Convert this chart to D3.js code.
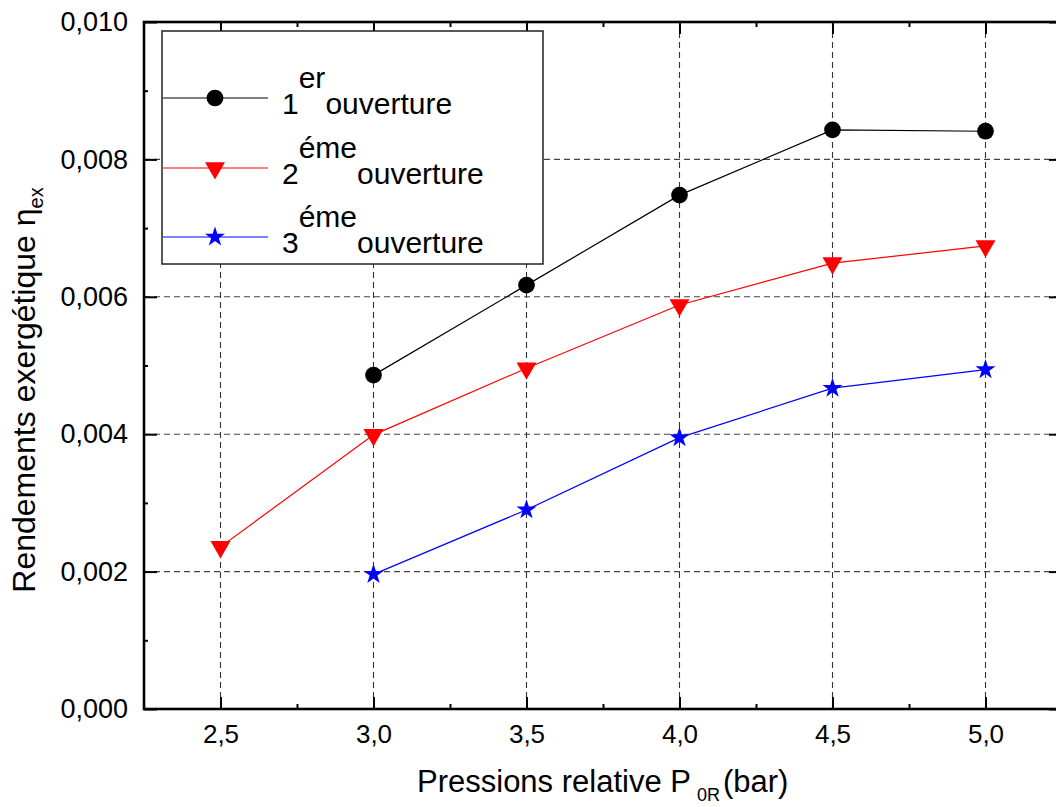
<!DOCTYPE html>
<html>
<head>
<meta charset="utf-8">
<script src="https://cdn.jsdelivr.net/npm/d3@7"></script>
<style>
  html, body { margin: 0; padding: 0; background: #fff; }
  svg { display: block; font-family: "Liberation Sans", Arial, sans-serif; }
</style>
</head>
<body>
<svg id="chart" width="1056" height="807"></svg>
<script>
// ---- data ----
const xTickValues = [2.5, 3.0, 3.5, 4.0, 4.5, 5.0];
const yTickValues = [0, 0.002, 0.004, 0.006, 0.008, 0.010];
const seriesNames = ["1", "2", "3"];
const seriesSup = ["er", "éme", "éme"];
const pressure1 = [3.0, 3.5, 4.0, 4.5, 5.0];
const rendement1 = [0.00486, 0.00617, 0.00748, 0.00843, 0.00841];
const pressure2 = [2.5, 3.0, 3.5, 4.0, 4.5, 5.0];
const rendement2 = [0.00236, 0.00399, 0.00496, 0.00588, 0.00649, 0.00674];
const pressure3 = [3.0, 3.5, 4.0, 4.5, 5.0];
const rendement3 = [0.00196, 0.00290, 0.00395, 0.00467, 0.00494];

const colors = ["#000000", "#ff0000", "#0000ff"];
const symbols = [d3.symbolCircle, d3.symbolTriangle, d3.symbolStar];

const series = [
  { xs: pressure1, ys: rendement1 },
  { xs: pressure2, ys: rendement2 },
  { xs: pressure3, ys: rendement3 }
];

// ---- layout ----
const L = 144, R = 1062, T = 22, B = 709;
const svg = d3.select("#chart");
const x = d3.scaleLinear().domain([2.25, 5.25]).range([L, R]);
const y = d3.scaleLinear().domain([0, 0.010]).range([B, T]);

const fmtX = v => d3.format(".1f")(v).replace(".", ",");
const fmtY = v => d3.format(".3f")(v).replace(".", ",");
const FONT = "Liberation Sans, Arial, sans-serif";

// grid
const grid = svg.append("g");
grid.selectAll("line.vg").data(xTickValues).enter().append("line")
  .attr("x1", d => x(d)).attr("x2", d => x(d)).attr("y1", T).attr("y2", B)
  .attr("stroke", "#333").attr("stroke-width", 1.1).attr("stroke-dasharray", "6,4");
grid.selectAll("line.hg").data(yTickValues.slice(1, -1)).enter().append("line")
  .attr("x1", L).attr("x2", R).attr("y1", d => y(d)).attr("y2", d => y(d))
  .attr("stroke", "#444").attr("stroke-width", 1.1).attr("stroke-dasharray", "6,4");

const minorX = d3.range(2.75, 5.26, 0.5);
const minorY = [0.001, 0.003, 0.005, 0.007, 0.009];

function styleAxis(g) {
  g.select(".domain").remove();
  g.selectAll(".tick line").attr("stroke", "#000").attr("stroke-width", 2);
}
// bottom
svg.append("g").attr("transform", `translate(0,${B})`)
  .call(d3.axisBottom(x).tickValues(xTickValues).tickSizeInner(-12).tickSizeOuter(0).tickPadding(16).tickFormat(fmtX))
  .call(styleAxis)
  .call(g => g.selectAll(".tick text").attr("font-size", 26).attr("fill", "#000").attr("font-family", FONT));
svg.append("g").attr("transform", `translate(0,${B})`)
  .call(d3.axisBottom(x).tickValues(minorX).tickSizeInner(-5).tickSizeOuter(0).tickFormat(""))
  .call(styleAxis);
// top
svg.append("g").attr("transform", `translate(0,${T})`)
  .call(d3.axisTop(x).tickValues(xTickValues).tickSizeInner(-12).tickSizeOuter(0).tickFormat(""))
  .call(styleAxis);
svg.append("g").attr("transform", `translate(0,${T})`)
  .call(d3.axisTop(x).tickValues(minorX).tickSizeInner(-5).tickSizeOuter(0).tickFormat(""))
  .call(styleAxis);
// left
svg.append("g").attr("transform", `translate(${L},0)`)
  .call(d3.axisLeft(y).tickValues(yTickValues).tickSizeInner(-13).tickSizeOuter(0).tickPadding(16).tickFormat(fmtY))
  .call(styleAxis)
  .call(g => g.selectAll(".tick text").attr("font-size", 27).attr("fill", "#000").attr("font-family", FONT));
svg.append("g").attr("transform", `translate(${L},0)`)
  .call(d3.axisLeft(y).tickValues(minorY).tickSizeInner(-4).tickSizeOuter(0).tickFormat(""))
  .call(styleAxis);
// right
svg.append("g").attr("transform", `translate(${R},0)`)
  .call(d3.axisRight(y).tickValues(yTickValues).tickSizeInner(-13).tickSizeOuter(0).tickFormat(""))
  .call(styleAxis);
svg.append("g").attr("transform", `translate(${R},0)`)
  .call(d3.axisRight(y).tickValues(minorY).tickSizeInner(-4).tickSizeOuter(0).tickFormat(""))
  .call(styleAxis);

// frame
svg.append("rect").attr("x", L).attr("y", T).attr("width", R - L).attr("height", B - T)
  .attr("fill", "none").attr("stroke", "#000").attr("stroke-width", 2.6);

// series
const line = d3.line().x(d => x(d[0])).y(d => y(d[1]));
const symSizes = [220, 173, 125];
series.forEach((s, i) => {
  const pts = s.xs.map((v, k) => [v, s.ys[k]]);
  svg.append("path").datum(pts).attr("d", line)
    .attr("fill", "none").attr("stroke", colors[i]).attr("stroke-width", 1.2);
  svg.selectAll(null).data(pts).enter().append("path")
    .attr("d", d3.symbol().type(symbols[i]).size(symSizes[i]))
    .attr("transform", d => `translate(${x(d[0])},${y(d[1])})` + (i === 1 ? " rotate(180)" : ""))
    .attr("fill", colors[i]);
});

// legend
const lg = svg.append("g");
lg.append("rect").attr("x", 162).attr("y", 31).attr("width", 381).attr("height", 233)
  .attr("fill", "#fff").attr("stroke", "#222").attr("stroke-width", 1.5);
const rowY = [98, 168, 237];
seriesNames.forEach((n, i) => {
  lg.append("line").attr("x1", 163).attr("x2", 268).attr("y1", rowY[i]).attr("y2", rowY[i])
    .attr("stroke", colors[i]).attr("stroke-width", 1.2);
  lg.append("path").attr("d", d3.symbol().type(symbols[i]).size(symSizes[i]))
    .attr("transform", `translate(215,${rowY[i]})` + (i === 1 ? " rotate(180)" : ""))
    .attr("fill", colors[i]);
  const t = lg.append("text").attr("x", 282).attr("y", rowY[i] + 16)
    .attr("font-size", 30).attr("fill", "#000");
  t.append("tspan").text(n);
  t.append("tspan").attr("dy", -26).text(seriesSup[i]);
  t.append("tspan").attr("dy", 26).text("ouverture");
});

// axis titles
const xt = svg.append("text").attr("x", 417).attr("y", 792)
  .attr("font-size", 31).attr("fill", "#000");
xt.append("tspan").text("Pressions relative P");
xt.append("tspan").attr("dx", 6).attr("dy", 9).attr("font-size", 18).text("0R");
xt.append("tspan").attr("dx", 3).attr("dy", -9).text("(bar)");

const yt = svg.append("text").attr("transform", "translate(35,390) rotate(-90)")
  .attr("text-anchor", "middle").attr("font-size", 32).attr("fill", "#000");
yt.append("tspan").text("Rendements exergétique η");
yt.append("tspan").attr("dy", 8).attr("font-size", 20).text("ex");
</script>
</body>
</html>
